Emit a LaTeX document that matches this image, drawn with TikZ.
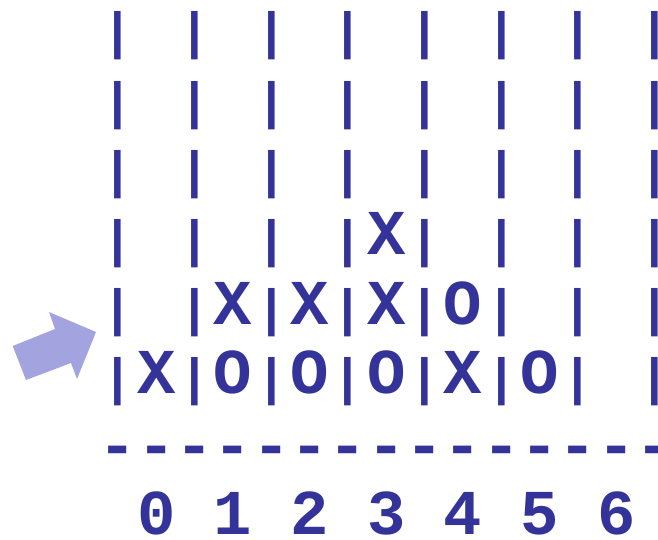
\documentclass[tikz,border=0pt]{standalone}
\usepackage{graphicx}
\usepackage{fontspec}
\setmonofont{Liberation Mono}
\definecolor{ink}{HTML}{333399}
\definecolor{arrowfill}{HTML}{A3A3DF}
\newcommand\cfbar{\makebox[0.6em][c]{\raisebox{-1.6pt}{\scalebox{0.8}[0.80]{|}}}}
\newcommand\cfsp{\phantom{|}}
\begin{document}
\begin{tikzpicture}[x=1pt,y=-1pt,
  rowtext/.style={anchor=base west,inner sep=0pt,outer sep=0pt,text=ink,
    font=\ttfamily\bfseries\fontsize{63.9}{70}\selectfont}]
\useasboundingbox (0,0) rectangle (658,540);
\node[rowtext] (r1) at (98.8,47.3) {\cfbar\cfsp\cfbar\cfsp\cfbar\cfsp\cfbar\cfsp\cfbar\cfsp\cfbar\cfsp\cfbar\cfsp\cfbar};
\node[rowtext] (r2) at (98.8,116.5) {\cfbar\cfsp\cfbar\cfsp\cfbar\cfsp\cfbar\cfsp\cfbar\cfsp\cfbar\cfsp\cfbar\cfsp\cfbar};
\node[rowtext] (r3) at (98.8,185.7) {\cfbar\cfsp\cfbar\cfsp\cfbar\cfsp\cfbar\cfsp\cfbar\cfsp\cfbar\cfsp\cfbar\cfsp\cfbar};
\node[rowtext] (r4) at (98.8,254.9) {\cfbar\cfsp\cfbar\cfsp\cfbar\cfsp\cfbar X\cfbar\cfsp\cfbar\cfsp\cfbar\cfsp\cfbar};
\node[rowtext] (r5) at (98.8,324.1) {\cfbar\cfsp\cfbar X\cfbar X\cfbar X\cfbar O\cfbar\cfsp\cfbar\cfsp\cfbar};
\node[rowtext] (r6) at (98.8,393.3) {\cfbar X\cfbar O\cfbar O\cfbar O\cfbar X\cfbar O\cfbar\cfsp\cfbar};
\node[rowtext] (r7) at (98.8,466) {---------------};
\node[rowtext] (r8) at (137.15,534) {0 1 2 3 4 5 6};
\fill[arrowfill] (12.7,346) -- (55,329) -- (49,312) -- (96,332) -- (77,379) -- (71,363) -- (26,380) -- cycle;
\end{tikzpicture}
\end{document}
